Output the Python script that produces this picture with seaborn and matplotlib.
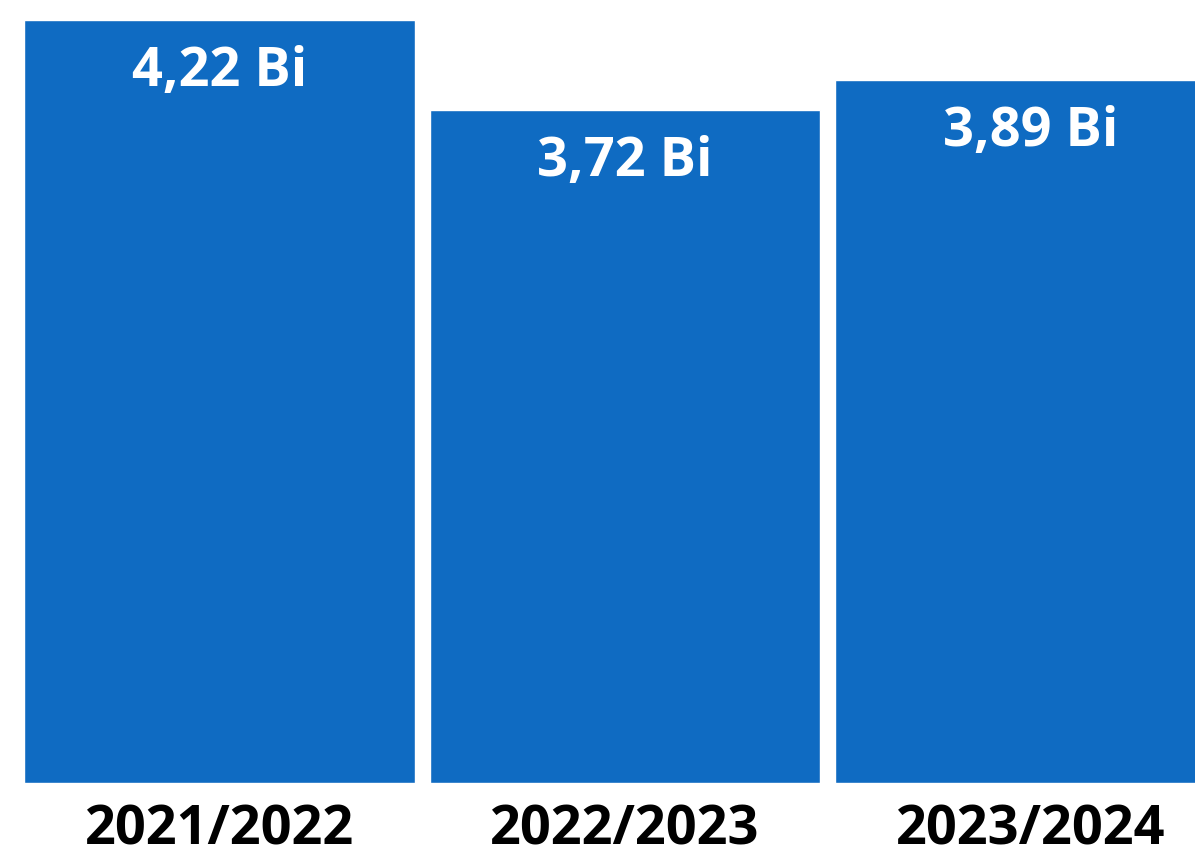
import matplotlib
matplotlib.use('Agg')
import matplotlib.pyplot as plt
import seaborn as sns
import pandas as pd

# Data
seasons = ['2021/2022', '2022/2023', '2023/2024']
values = [4.22, 3.72, 3.89]
labels = ['4,22 Bi', '3,72 Bi', '3,89 Bi']

df = pd.DataFrame({'season': seasons, 'value': values})

sns.set_theme(style='white')
plt.rcParams['font.family'] = ['Open Sans', 'DejaVu Sans']

fig = plt.figure(figsize=(11.95, 8.61), dpi=100)
# axes fills the width; bottom of bars at 783 px of 861
ax = fig.add_axes([0, 78 / 861, 1, 783 / 861])

sns.barplot(data=df, x='season', y='value', color='#0F6BC2', saturation=1,
            width=0.964, ax=ax)

unit = 405.5
left = -0.482 - 24 / unit
ax.set_xlim(left, left + 1195 / unit)
ax.set_ylim(0, 4.22 * 783 / 763)

for i, (v, lab) in enumerate(zip(values, labels)):
    ax.annotate(lab, (i, v), xytext=(0, -52), textcoords='offset pixels',
                ha='center', va='center', color='white', fontsize=39,
                fontweight='bold')

ax.set_xlabel('')
ax.set_ylabel('')
ax.set_yticks([])
ax.tick_params(axis='x', length=0, pad=15, labelsize=39)
for t in ax.get_xticklabels():
    t.set_fontweight('bold')
    t.set_color('black')
sns.despine(ax=ax, left=True, bottom=True, top=True, right=True)

fig.savefig('out.png', dpi=100)
